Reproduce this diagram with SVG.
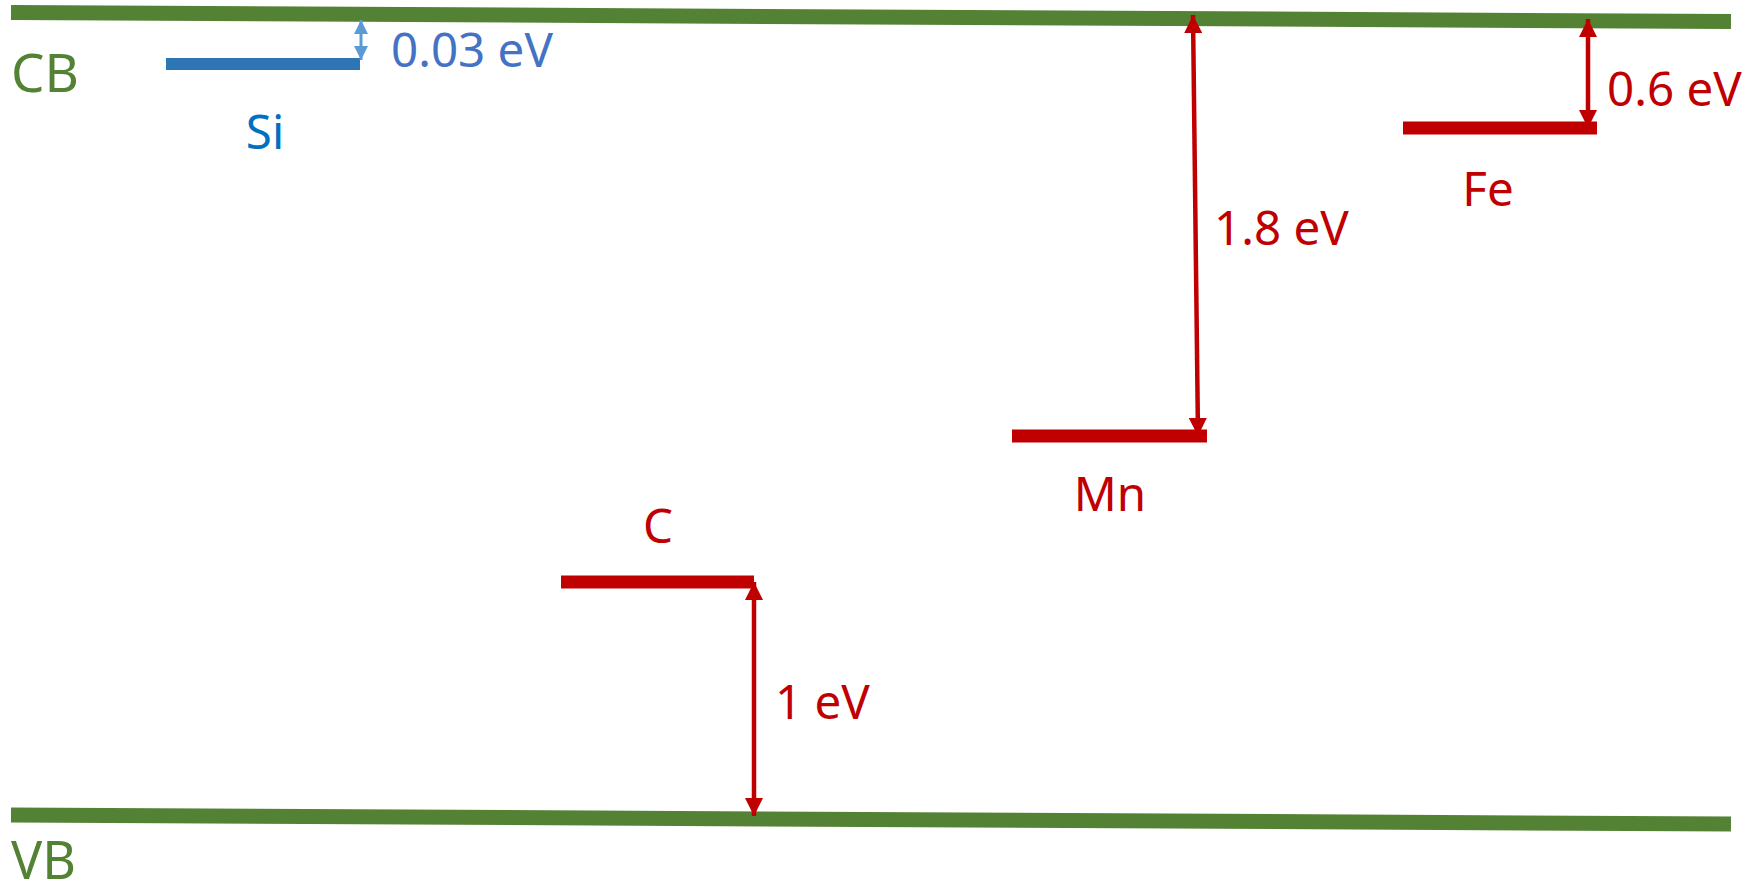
<svg xmlns="http://www.w3.org/2000/svg" width="1762" height="895" viewBox="0 0 1762 895">
<style>
.band{stroke:#548235;stroke-width:15;fill:none}
.lvl-r{stroke:#C00000;stroke-width:13;fill:none}
.lvl-b{stroke:#2E75B6;stroke-width:12;fill:none}
.arr-r{stroke:#C00000;stroke-width:4.5;fill:none;marker-start:url(#ah-r);marker-end:url(#ah-r)}
.arr-b{stroke:#5B9BD5;stroke-width:3;fill:none;marker-start:url(#ah-b);marker-end:url(#ah-b)}
text{font-family:"Noto Sans","Open Sans","Liberation Sans",sans-serif;font-size:47.5px}
.tg{fill:#548235;font-size:53px}
.tr{fill:#C00000}
.tb{fill:#4472C4}
.tsi{fill:#0070C0}
</style>
<defs>
<marker id="ah-r" viewBox="0 0 10 10" refX="10" refY="5" markerWidth="20" markerHeight="18" markerUnits="userSpaceOnUse" orient="auto-start-reverse"><path d="M0,0 L10,5 L0,10 z" fill="#C00000"/></marker>
<marker id="ah-b" viewBox="0 0 10 10" refX="10" refY="5" markerWidth="14" markerHeight="14" markerUnits="userSpaceOnUse" orient="auto-start-reverse"><path d="M0,0 L10,5 L0,10 z" fill="#5B9BD5"/></marker>
</defs>
<g id="CB"><line class="band" x1="11" y1="12.5" x2="1731" y2="21.5"/><text class="tg" x="11" y="92">CB</text></g>
<g id="VB"><line class="band" x1="11" y1="815" x2="1731" y2="824"/><text class="tg" x="11" y="879" style="font-size:52px">VB</text></g>
<g id="Si"><line class="lvl-b" x1="166" y1="64" x2="360" y2="64"/><text class="tsi" x="265" y="149" text-anchor="middle">Si</text></g>
<g id="Fe"><line class="lvl-r" x1="1403" y1="128" x2="1597" y2="128"/><text class="tr" x="1488" y="206" text-anchor="middle">Fe</text></g>
<g id="Mn"><line class="lvl-r" x1="1012" y1="436" x2="1207" y2="436"/><text class="tr" x="1110" y="511" text-anchor="middle">Mn</text></g>
<g id="C"><line class="lvl-r" x1="561" y1="582" x2="754" y2="582"/><text class="tr" x="658" y="543" text-anchor="middle">C</text></g>
<g id="connectors">
<line class="arr-b" x1="361" y1="20" x2="361" y2="60"/>
<line class="arr-r" x1="1193" y1="15" x2="1198" y2="436"/>
<line class="arr-r" x1="1588" y1="19" x2="1588" y2="128"/>
<line class="arr-r" x1="754" y1="582" x2="754" y2="816"/>
</g>
<g id="labels">
<text class="tb" x="391" y="67">0.03 eV</text>
<text class="tr" x="1214" y="245">1.8 eV</text>
<text class="tr" x="1607" y="106">0.6 eV</text>
<text class="tr" x="775" y="719">1 eV</text>
</g>
</svg>
